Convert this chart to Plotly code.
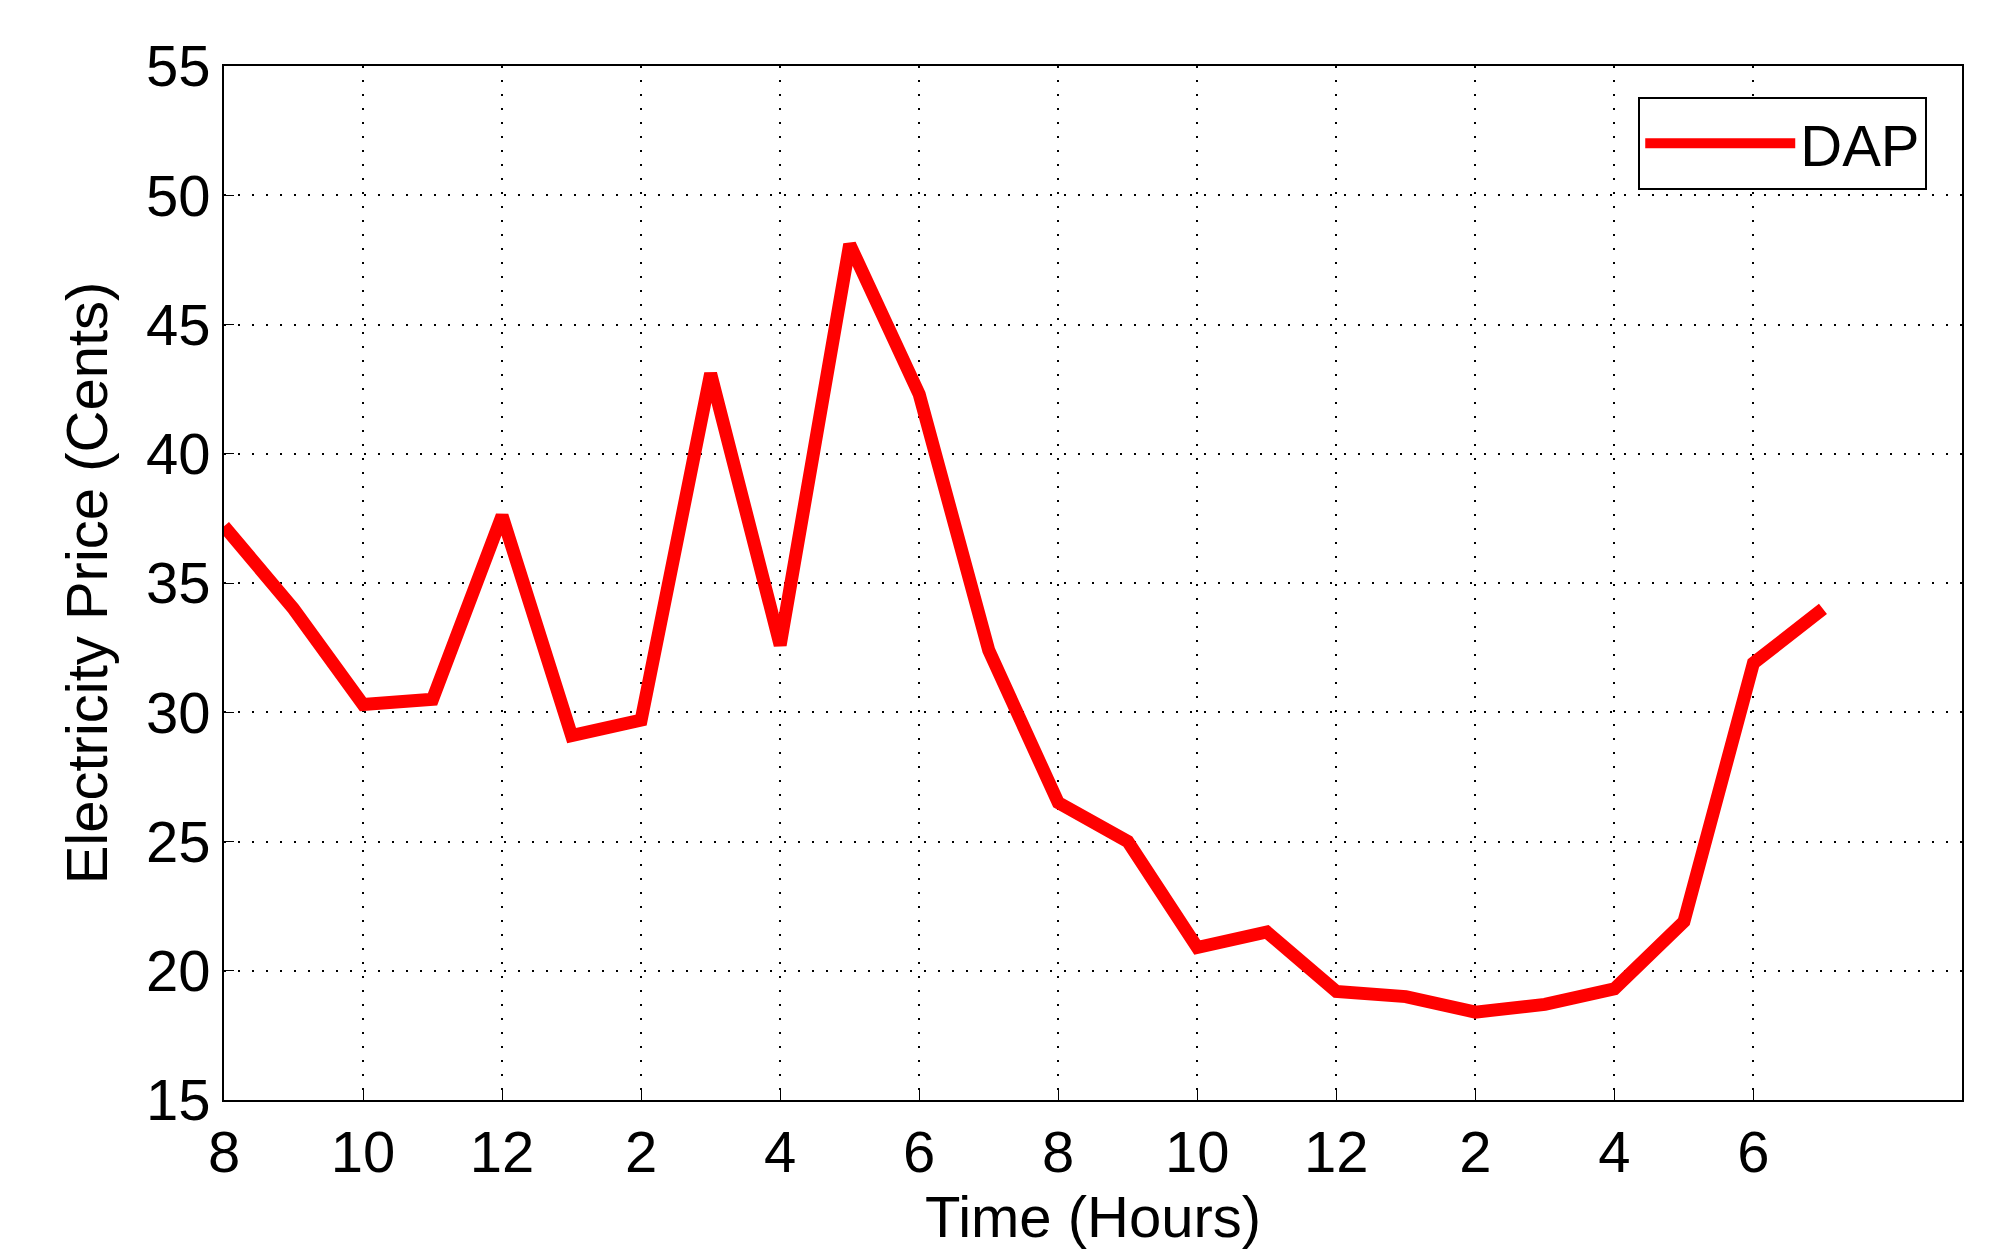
import plotly.graph_objects as go

hours = list(range(24))
price = [37.2, 34.0, 30.3, 30.5, 37.6, 29.1, 29.7, 43.1, 32.6, 48.1, 42.3, 32.4,
         26.5, 25.0, 20.9, 21.5, 19.2, 19.0, 18.4, 18.7, 19.3, 21.9, 31.9, 34.0]
tick_vals = list(range(0, 24, 2))
tick_text = ["8", "10", "12", "2", "4", "6", "8", "10", "12", "2", "4", "6"]
y_ticks = list(range(15, 56, 5))

fig = go.Figure()
fig.add_trace(go.Scatter(x=hours, y=price, mode="lines", name="DAP",
                         line=dict(color="#ff0000", width=13)))
ax = dict(showline=True, linecolor="black", linewidth=2, mirror=True,
          ticks="inside", ticklen=10, tickcolor="black",
          showgrid=True, gridcolor="black", griddash="2px,12px", gridwidth=2,
          zeroline=False, tickfont=dict(size=58, color="black"))
fig.update_xaxes(range=[0, 25], tickvals=tick_vals, ticktext=tick_text,
                 title=dict(text="Time (Hours)", font=dict(size=58, color="black"), standoff=10), **ax)
fig.update_yaxes(range=[15, 55], tickvals=y_ticks,
                 title=dict(text="Electricity Price (Cents)", font=dict(size=58, color="black"), standoff=20), **ax)
fig.update_layout(width=1990, height=1260, plot_bgcolor="white", paper_bgcolor="white",
                  font=dict(family="Liberation Sans, Arial, sans-serif"),
                  margin=dict(l=216, r=36, t=58, b=168),
                  showlegend=True,
                  legend=dict(x=0.98, y=0.97, xanchor="right", yanchor="top",
                              bordercolor="black", borderwidth=2, bgcolor="white",
                              font=dict(size=58, color="black"), itemwidth=150))
fig.write_html("out.html")
